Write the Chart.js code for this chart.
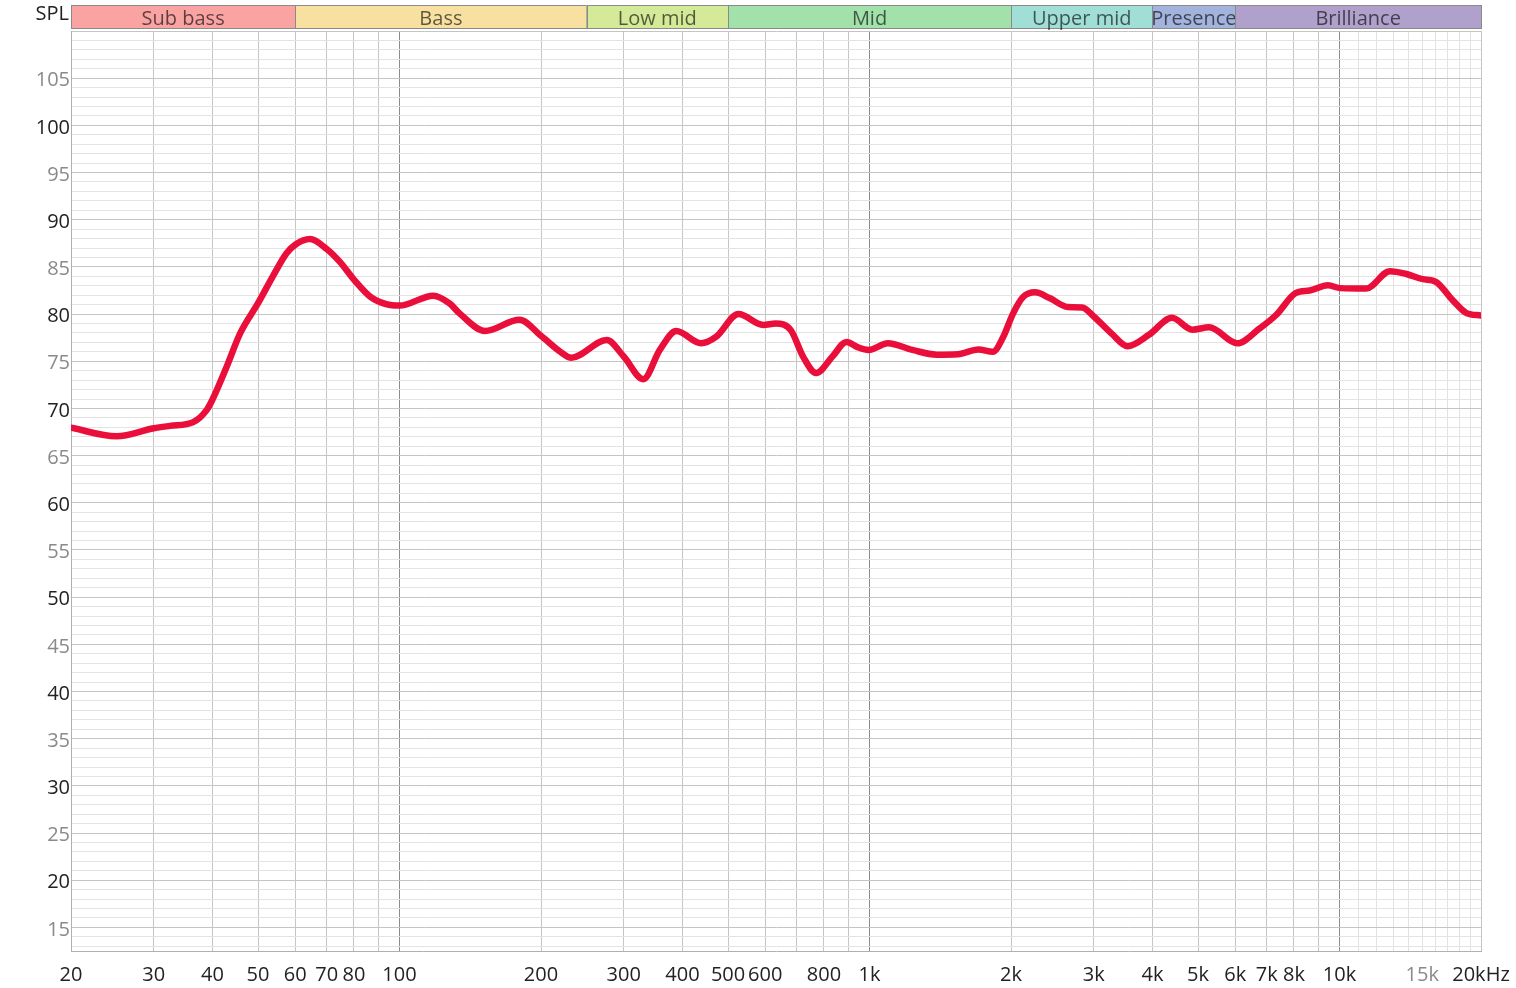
<!DOCTYPE html>
<html><head><meta charset="utf-8">
<script src="https://cdn.jsdelivr.net/npm/chart.js@4/dist/chart.umd.min.js"></script>
<style>html,body{margin:0;padding:0;background:#fff;}#wrap{width:1516px;height:988px;position:relative}</style>
</head><body><div id="wrap"><canvas id="c" width="1516" height="988"></canvas></div>
<script>
const frequencies = [20, 25, 30, 32.5, 36.4, 38.9, 40, 42.9, 45.8, 50, 53.9, 57.5, 60, 64.5, 70, 74.6, 80, 86.6, 93.7, 100, 118, 128, 134, 152, 180, 200, 220, 232, 276, 300, 330, 358, 388, 438, 472, 526, 594, 631, 680, 722, 770, 834, 893, 943, 996, 1094, 1234, 1389, 1542, 1704, 1830, 1926, 2020, 2122, 2250, 2416, 2640, 2834, 3000, 3280, 3540, 3930, 4400, 4860, 5280, 6060, 6750, 7330, 8080, 8640, 9450, 10040, 11400, 12800, 13880, 15040, 16000, 17460, 18630, 20000];
const splValues = [67.95, 67.05, 67.9, 68.15, 68.55, 69.85, 70.95, 74.45, 77.95, 81.15, 84.1, 86.45, 87.35, 87.95, 86.9, 85.55, 83.65, 81.85, 81.05, 80.9, 81.95, 81.1, 80.1, 78.2, 79.4, 77.7, 76.0, 75.37, 77.25, 75.5, 73.1, 76.2, 78.2, 76.9, 77.6, 80.0, 78.85, 79.0, 78.3, 75.5, 73.75, 75.5, 77.05, 76.5, 76.2, 76.9, 76.2, 75.7, 75.75, 76.25, 76.0, 77.6, 80.05, 81.8, 82.3, 81.7, 80.75, 80.7, 79.75, 77.9, 76.6, 77.8, 79.6, 78.35, 78.6, 76.9, 78.45, 79.9, 82.25, 82.5, 83.05, 82.75, 82.7, 84.55, 84.25, 83.7, 83.45, 81.4, 80.1, 79.85];

const xTickValues = [20,30,40,50,60,70,80,90,100,200,300,400,500,600,700,800,900,1000,2000,3000,4000,5000,6000,7000,8000,9000,10000,11000,12000,13000,14000,15000,16000,17000,18000,19000,20000];
const xLabelValues = [20,30,40,50,60,70,80,100,200,300,400,500,600,800,1000,2000,3000,4000,5000,6000,7000,8000,10000,15000,20000];
const xLabelTexts = ['20','30','40','50','60','70','80','100','200','300','400','500','600','800','1k','2k','3k','4k','5k','6k','7k','8k','10k','15k','20kHz'];
const yLabelValues = [15,20,25,30,35,40,45,50,55,60,65,70,75,80,85,90,95,100,105];
const yMin = 12.5, yMax = 110;

const bandNames = ['Sub bass','Bass','Low mid','Mid','Upper mid','Presence','Brilliance'];
const bandEdges = [20,60,250,500,2000,4000,6000,20000];
const bandColors = ['#f9a3a3','#f7e0a0','#d5ea98','#a2e2aa','#a0ded6','#a2b3dc','#b0a0cc'];

const FONT = '"Open Sans", "Noto Sans", sans-serif';

const headerPlugin = {
  id: 'header',
  afterDraw(chart) {
    const ctx = chart.ctx, xs = chart.scales.x;
    const top = 5, bottom = 28;
    ctx.save();
    for (let i = 0; i < bandNames.length; i++) {
      const x0 = xs.getPixelForValue(bandEdges[i]);
      const x1 = xs.getPixelForValue(bandEdges[i+1]);
      ctx.fillStyle = bandColors[i];
      ctx.fillRect(x0, top, x1 - x0, bottom - top);
      ctx.strokeStyle = '#8a8a8a';
      ctx.lineWidth = 1;
      ctx.strokeRect(Math.round(x0)+0.5, top+0.5, Math.round(x1-x0), bottom - top);
      ctx.fillStyle = 'rgba(0,0,0,0.62)';
      ctx.font = '20px ' + FONT;
      ctx.textAlign = 'center';
      ctx.textBaseline = 'middle';
      ctx.fillText(bandNames[i], (x0 + x1) / 2, 19);
    }
    ctx.fillStyle = '#222';
    ctx.textAlign = 'right';
    ctx.font = '20px ' + FONT;
    ctx.fillText('SPL', 69, 14);
    ctx.restore();
  }
};

new Chart(document.getElementById('c'), {
  type: 'line',
  data: {
    datasets: [{
      data: frequencies.map((f, i) => ({ x: f, y: splValues[i] })),
      borderColor: '#ea0f3b',
      borderWidth: 6.5,
      pointRadius: 0,
      cubicInterpolationMode: 'monotone',
      borderCapStyle: 'round',
      borderJoinStyle: 'round',
      fill: false
    }]
  },
  options: {
    responsive: false,
    animation: false,
    devicePixelRatio: 1,
    layout: { padding: { top: 31, right: 35, left: 0, bottom: 0 } },
    plugins: { legend: { display: false }, tooltip: { enabled: false } },
    scales: {
      x: {
        type: 'logarithmic',
        min: 20, max: 20000,
        afterBuildTicks: s => { s.ticks = xTickValues.map(v => ({ value: v })); },
        afterFit: s => { s.height = 37; s.paddingRight = 0; s.paddingLeft = 0; },
        ticks: {
          autoSkip: false, maxRotation: 0, minRotation: 0, padding: 12,
          font: { size: 20, family: FONT },
          color: c => (c.tick && c.tick.value === 15000) ? '#8a8a8a' : '#222',
          callback: v => { const i = xLabelValues.indexOf(v); return i >= 0 ? xLabelTexts[i] : ''; }
        },
        grid: {
          drawTicks: false,
          color: c => {
            const v = c.tick ? c.tick.value : 0;
            if (v === 100 || v === 1000 || v === 10000) return '#8c8c8c';
            if (v > 10000 && v < 20000) return '#e2e2e2';
            return '#c6c6c6';
          }
        },
        border: { display: true, color: '#b0b0b0' }
      },
      y: {
        min: yMin, max: yMax,
        afterBuildTicks: s => {
          const t = [];
          for (let v = Math.ceil(yMin); v <= yMax; v++) t.push({ value: v });
          s.ticks = t;
        },
        afterFit: s => { s.width = 71; s.paddingTop = 0; s.paddingBottom = 0; },
        ticks: {
          autoSkip: false, padding: 1, labelOffset: 2.5,
          font: { size: 20, family: FONT },
          color: c => (c.tick && c.tick.value % 10 === 0) ? '#222' : '#8a8a8a',
          callback: v => yLabelValues.includes(v) ? String(v) : ''
        },
        grid: {
          drawTicks: false,
          color: c => (c.tick && c.tick.value % 5 === 0) ? '#c4c4c4' : '#e3e3e3'
        },
        border: { display: true, color: '#b0b0b0' }
      }
    }
  },
  plugins: [headerPlugin]
});
</script>
</body></html>
